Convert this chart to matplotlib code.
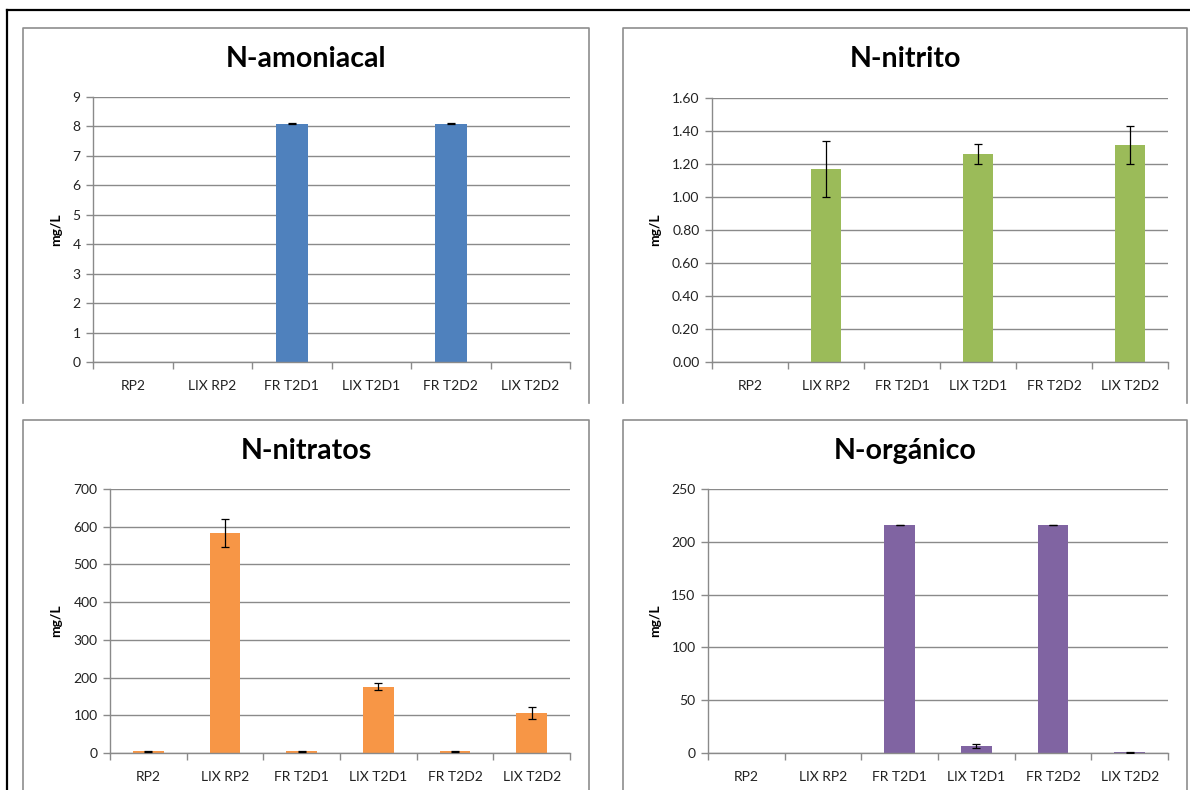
import matplotlib
matplotlib.use("Agg")
import matplotlib.pyplot as plt
import numpy as np
from matplotlib.lines import Line2D

plt.rcParams['font.family'] = ['Lato', 'DejaVu Sans']

# categorias comunes
categorias = ['RP2', 'LIX RP2', 'FR T2D1', 'LIX T2D1', 'FR T2D2', 'LIX T2D2']

# N-amoniacal
amoniacal = [0, 0, 8.1, 0, 8.1, 0]
amoniacal_err = [0, 0, 0.01, 0, 0.01, 0]
# N-nitrito
nitrito = [0, 1.17, 0, 1.26, 0, 1.315]
nitrito_err = [0, 0.17, 0, 0.06, 0, 0.113]
# N-nitratos
nitratos = [4.5, 583, 4, 176, 4, 106]
nitratos_err = [1.5, 37, 1.5, 10, 1.5, 17]
# N-organico
organico = [0, 0, 216, 6.3, 216, 0.5]
organico_err = [0, 0, 0.2, 2.0, 0.2, 0.2]

W, H = 1190, 790
fig = plt.figure(figsize=(W/100, H/100), dpi=100)

def fx(x):
    return x/W
def fy(y):
    return 1 - y/H

# marco negro exterior
fig.add_artist(Line2D([fx(7), fx(7)], [fy(10), fy(790)], color='black', lw=1.6))
fig.add_artist(Line2D([fx(7), fx(1190)], [fy(10), fy(10)], color='black', lw=1.6))

# bordes de los paneles (cortados abajo)
def borde(x0, x1, y0, y1):
    fig.add_artist(Line2D([fx(x0), fx(x0), fx(x1), fx(x1)],
                          [fy(y1), fy(y0), fy(y0), fy(y1)],
                          color='#8e8e8e', lw=1.2))

borde(23, 589, 28, 403)
borde(623, 1187, 28, 403)
borde(23, 589, 420, 790)
borde(623, 1187, 420, 790)

gris = '#8a8a8a'

def panel(rect, caja, vals, errs, color, titulo, yticks, fmt, title_y, ylab_x):
    left, right, top, bottom = rect
    ax = fig.add_axes([fx(left), fy(bottom), fx(right - left), (bottom - top)/H])
    x = np.arange(len(categorias))
    ax.bar(x, vals, width=0.4, color=color, zorder=2)
    idx = [i for i in range(len(vals)) if vals[i] > 0]
    ax.errorbar(x[idx], np.array(vals)[idx], yerr=np.array(errs)[idx], fmt='none',
                ecolor='black', elinewidth=0.9, capsize=3.2, capthick=0.9, zorder=3)
    ax.set_xlim(-0.5, len(categorias) - 0.5)
    ax.set_ylim(yticks[0], yticks[-1])
    ax.set_yticks(yticks)
    ax.set_yticklabels([fmt % v for v in yticks], fontsize=10, color='#222222')
    ax.set_xticks(x)
    ax.set_xticklabels(categorias, fontsize=10, color='#222222')
    ax.tick_params(axis='x', which='major', length=0, pad=13)
    ax.set_xticks(np.arange(-0.5, len(categorias)), minor=True)
    ax.tick_params(axis='x', which='minor', length=5, color=gris, width=1)
    ax.tick_params(axis='y', length=5, color=gris, width=1, pad=4)
    ax.yaxis.grid(True, color=gris, lw=1)
    ax.set_axisbelow(True)
    for s in ['top', 'right']:
        ax.spines[s].set_visible(False)
    for s in ['left', 'bottom']:
        ax.spines[s].set_color(gris)
        ax.spines[s].set_linewidth(1)
    fig.text(fx((caja[0] + caja[1])/2), fy(title_y), titulo, fontsize=20.5,
             fontweight='bold', ha='center', va='center')
    fig.text(fx(ylab_x), fy((top + bottom)/2), 'mg/L', fontsize=10, fontweight='bold',
             rotation=90, ha='center', va='center')
    return ax

panel((93, 570, 97, 362), (23, 589), amoniacal, amoniacal_err, '#4f81bd', 'N-amoniacal',
      list(range(0, 10)), '%d', 59, 56)
panel((712, 1168, 98, 362), (623, 1187), nitrito, nitrito_err, '#9bbb59', 'N-nitrito',
      [round(0.2*i, 2) for i in range(9)], '%.2f', 59, 655)
panel((110, 570, 489, 753), (23, 589), nitratos, nitratos_err, '#f79646', 'N-nitratos',
      list(range(0, 701, 100)), '%d', 451, 56)
panel((708, 1168, 489, 753), (623, 1187), organico, organico_err, '#8064a2', 'N-orgánico',
      list(range(0, 251, 50)), '%d', 451, 655)

fig.savefig('out.png', dpi=100)
